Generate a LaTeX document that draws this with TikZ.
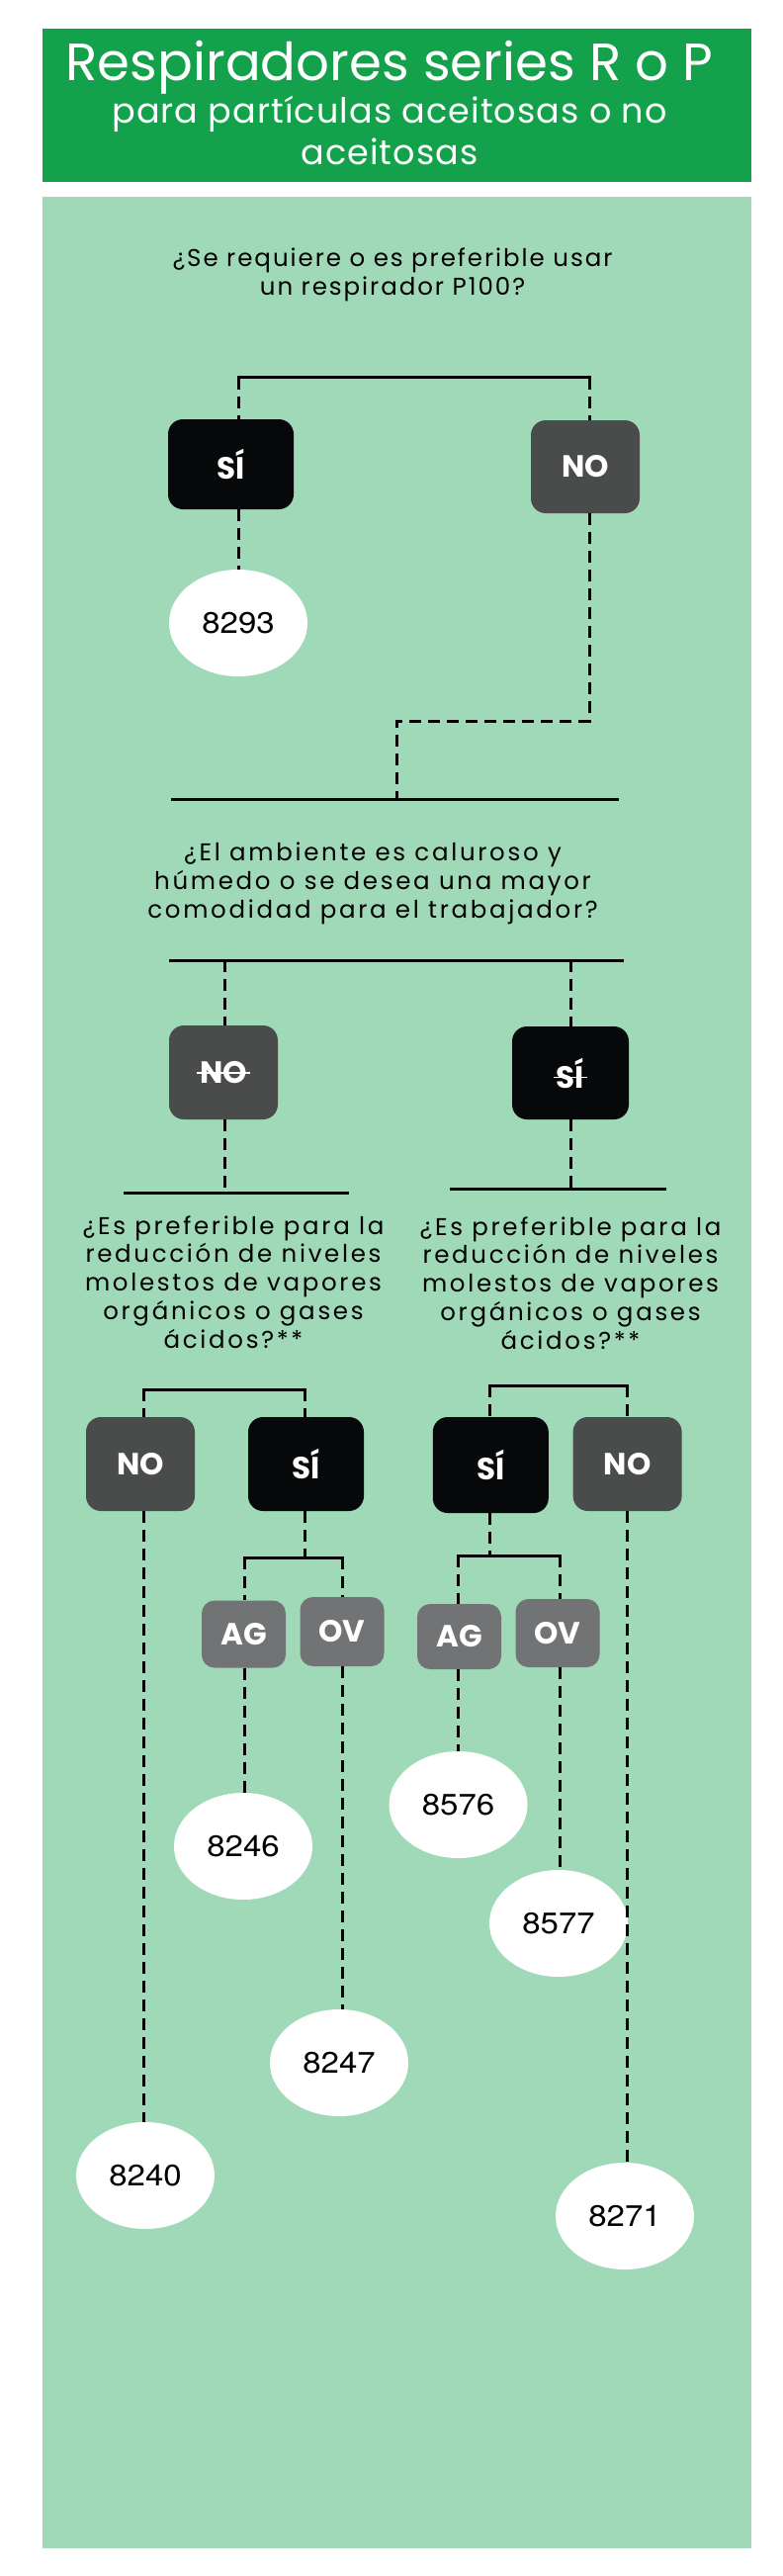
\documentclass[tikz,border=0pt]{standalone}
\usepackage{fontspec}
\setmainfont{Poppins}
\newfontfamily\numfont[FakeStretch=1.1]{TeX Gyre Heros}
\newfontfamily\askwide[LetterSpace=8]{Poppins}
\newfontfamily\asknarrow[LetterSpace=11]{Poppins}
\newfontfamily\subfont[LetterSpace=3]{Poppins}
\usetikzlibrary{shapes.geometric}
\definecolor{hdrgreen}{HTML}{14A14B}
\definecolor{panelgreen}{HTML}{A0D9B8}
\definecolor{boxblack}{HTML}{060809}
\definecolor{boxgrey}{HTML}{4A4B4B}
\definecolor{boxmid}{HTML}{727375}
\newcommand{\asksize}{\fontsize{24.5}{28.7}\selectfont}
\newcommand{\lblfont}{\fontsize{31}{34}\selectfont\bfseries}
\newcommand{\strk}[1]{\setbox0\hbox{#1}\rlap{\hspace{-3pt}\raisebox{0.31em}{\rule{\dimexpr\wd0+6pt\relax}{1.8pt}}}\box0}

\begin{document}
\begin{tikzpicture}[x=1pt, y=-1pt,
  ans/.style={rounded corners=15pt, minimum width=110pt, minimum height=94pt, inner sep=0pt, text=white, font=\lblfont},
  sibox/.style={ans, fill=boxblack, minimum width=118pt},
  nobox/.style={ans, fill=boxgrey},
  gasbox/.style={ans, fill=boxmid, rounded corners=13pt, minimum width=85pt, minimum height=68pt},
  numell/.style={ellipse, fill=white, minimum width=140pt, minimum height=108pt, inner sep=0pt, font=\numfont\fontsize{30}{34}\selectfont},
  ask/.style={align=center, anchor=base},
  bar/.style={line width=3pt, line cap=rect},
  link/.style={line width=3pt, dash pattern=on 12pt off 7pt}]
  \useasboundingbox[fill=white] (0,0) rectangle (792,2605);
  \fill[hdrgreen] (43,29) rectangle (760,184);
  \fill[panelgreen] (43,199) rectangle (760,2577);

  \node[anchor=base, text=white, font=\fontsize{53}{60}\selectfont] (ttl) at (394,81) {Respiradores series R o P};
  \node[anchor=base, align=center, text=white, font=\subfont\fontsize{35}{42}\selectfont] (sub) at (394,166) {para partículas aceitosas o no\\aceitosas};

  \node[ask, font=\askwide\asksize] (q1) at (397,298) {¿Se requiere o es preferible usar\\un respirador P100?};
  \node[ask, font=\asknarrow\asksize] (q2) at (377,928) {¿El ambiente es caluroso y\\húmedo o se desea una mayor\\comodidad para el trabajador?};
  \node[ask, font=\asknarrow\asksize] (q3l) at (236,1363) {¿Es preferible para la\\reducción de niveles\\molestos de vapores\\orgánicos o gases\\ácidos?**};
  \node[ask, font=\asknarrow\asksize] (q3r) at (577,1364) {¿Es preferible para la\\reducción de niveles\\molestos de vapores\\orgánicos o gases\\ácidos?**};

  \node[sibox, minimum width=127pt, minimum height=91pt] (si1) at (233.5,469.5) {SÍ};
  \node[nobox] (no1) at (592,472) {NO};
  \node[nobox, minimum height=95pt] (no2) at (226,1084.5) {\strk{NO}};
  \node[sibox] (si2) at (577,1085) {\strk{SÍ}};
  \node[nobox, minimum height=95pt] (no3) at (142,1480.5) {NO};
  \node[sibox, minimum width=117pt, minimum height=95pt] (si3) at (309.5,1480.5) {SÍ};
  \node[sibox, minimum width=117pt, minimum height=97pt] (si4) at (496.3,1481.5) {SÍ};
  \node[nobox, minimum height=95pt] (no4) at (634.6,1480.5) {NO};
  \node[gasbox] (ag1) at (246.5,1652.5) {AG};
  \node[gasbox, minimum height=70pt] (ov1) at (346,1650) {OV};
  \node[gasbox, minimum height=66pt] (ag2) at (464.5,1655) {AG};
  \node[gasbox, minimum height=69pt] (ov2) at (564,1651.5) {OV};

  \foreach \n/\x/\y in {8293/241/630, 8246/246/1867, 8247/343/2086, 8576/463.5/1825,
    8577/565/1945, 8240/147/2200, 8271/632/2241}
    \node[numell] (e\n) at (\x,\y) {\n};

  \coordinate (b1l) at (241,381.5); \coordinate (b1r) at (596,381.5);
  \coordinate (turn) at (401.6,729);
  \coordinate (b2l) at (174,808); \coordinate (b2m) at (401.6,808); \coordinate (b2r) at (624,808);
  \coordinate (b3l) at (172,971); \coordinate (c3a) at (227,971); \coordinate (c3b) at (577,971); \coordinate (b3r) at (629,971);
  \coordinate (b4l) at (126,1206); \coordinate (b4m) at (227,1206); \coordinate (b4r) at (351,1206);
  \coordinate (b5l) at (456,1202); \coordinate (b5m) at (577,1202); \coordinate (b5r) at (672,1202);
  \coordinate (b6l) at (145,1405); \coordinate (b6r) at (308,1405);
  \coordinate (b7l) at (495,1401); \coordinate (b7r) at (634,1401);
  \coordinate (b8l) at (247,1575); \coordinate (b8m) at (308,1575); \coordinate (b8r) at (346,1575);
  \coordinate (b9l) at (463,1573); \coordinate (b9m) at (495,1573); \coordinate (b9r) at (566,1573);

  \foreach \a/\b in {b1l/b1r, b2l/b2r, b3l/b3r, b4l/b4r, b5l/b5r, b6l/b6r, b7l/b7r, b8l/b8r, b9l/b9r}
    \draw[bar] (\a) -- (\b);

  \draw[link] (b1l) -- (b1l |- si1.north);
  \draw[link] (b1r) -- (b1r |- no1.north);
  \draw[link] (si1.south -| b1l) -- (e8293.north -| b1l);
  \draw[link] (no1.south -| b1r) |- (turn) -- (b2m);
  \draw[link] (c3a) -- (c3a |- no2.north);
  \draw[link] (c3b) -- (c3b |- si2.north);
  \draw[link] (no2.south -| c3a) -- (b4m);
  \draw[link] (si2.south -| c3b) -- (b5m);
  \draw[link] (b6l) -- (b6l |- no3.north);
  \draw[link] (b6r) -- (b6r |- si3.north);
  \draw[link] (b7l) -- (b7l |- si4.north);
  \draw[link] (b7r) -- (b7r |- no4.north);
  \draw[link] (si3.south -| b8m) -- (b8m);
  \draw[link] (si4.south -| b9m) -- (b9m);
  \draw[link] (b8l) -- (b8l |- ag1.north);
  \draw[link] (b8r) -- (b8r |- ov1.north);
  \draw[link] (b9l) -- (b9l |- ag2.north);
  \draw[link] (b9r) -- (b9r |- ov2.north);
  \draw[link] (no3.south -| b6l) -- (e8240.north -| b6l);
  \draw[link] (ag1.south -| b8l) -- (e8246.north -| b8l);
  \draw[link] (ov1.south -| b8r) -- (e8247.north -| b8r);
  \draw[link] (ag2.south -| b9l) -- (e8576.north -| b9l);
  \draw[link] (ov2.south -| b9r) -- (e8577.north -| b9r);
  \draw[link] (no4.south -| b7r) -- (e8271.north -| b7r);
\end{tikzpicture}
\end{document}
